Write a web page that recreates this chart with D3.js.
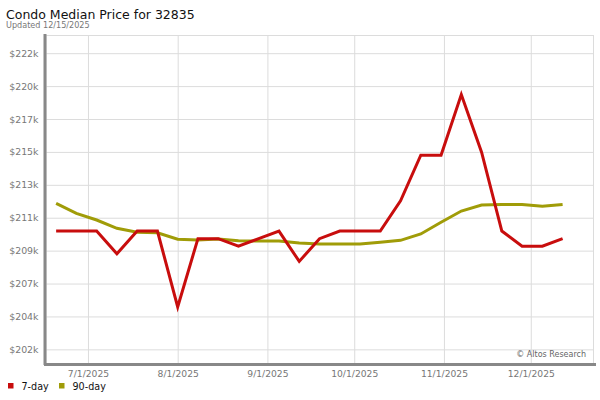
<!DOCTYPE html>
<html>
<head>
<meta charset="utf-8">
<script src="https://cdn.jsdelivr.net/npm/d3@7"></script>
<style>
  html, body { margin: 0; padding: 0; background: #fff; }
  svg { display: block; font-family: "DejaVu Sans", sans-serif; }
</style>
</head>
<body>
<svg id="chart" width="600" height="400"></svg>
<script>
// ---- data ----
const dates = [
  "2025-06-20","2025-06-27","2025-07-04","2025-07-11","2025-07-18","2025-07-25",
  "2025-08-01","2025-08-08","2025-08-15","2025-08-22","2025-08-29","2025-09-05",
  "2025-09-12","2025-09-19","2025-09-26","2025-10-03","2025-10-10","2025-10-17",
  "2025-10-24","2025-10-31","2025-11-07","2025-11-14","2025-11-21","2025-11-28",
  "2025-12-05","2025-12-12"
];
const sevenDay = [
  210000, 210000, 210000, 208500, 210000, 210000,
  205000, 209500, 209500, 209000, 209500, 210000,
  208000, 209500, 210000, 210000, 210000, 212000,
  215000, 215000, 219000, 215200, 210000, 209000,
  209000, 209500
];
const ninetyDay = [
  211830, 211170, 210730, 210180, 209920, 209890,
  209460, 209410, 209480, 209360, 209340, 209340,
  209210, 209150, 209150, 209150, 209260, 209390,
  209810, 210580, 211320, 211720, 211760, 211760,
  211630, 211760
];
const seriesNames = ["7-day", "90-day"];
const seriesColors = ["#c80d0d", "#a09c08"];
const yTickValues = [202200, 204370, 206540, 208710, 210880, 213050, 215220, 217390, 219560, 221730];
const yTickLabels = ["$202k","$204k","$207k","$209k","$211k","$213k","$215k","$217k","$220k","$222k"];
const xTickDates = ["2025-07-01","2025-08-01","2025-09-01","2025-10-01","2025-11-01","2025-12-01"];
const xTickLabels = ["7/1/2025","8/1/2025","9/1/2025","10/1/2025","11/1/2025","12/1/2025"];
const titleText = "Condo Median Price for 32835";
const updatedText = "Updated 12/15/2025";
const creditText = "\u00A9 Altos Research";

(function () {
// ---- layout ----
const svg = d3.select("#chart");
const pLeft = 46, pRight = 593, pTop = 35, pBottom = 363;
const parse = d3.timeParse("%Y-%m-%d");

const x = d3.scaleTime()
  .domain([new Date(2025, 5, 16, 12), new Date(2025, 11, 22, 12)])
  .range([pLeft, pRight]);
const y = d3.scaleLinear()
  .domain([201300, 222930])
  .range([pBottom, pTop]);

// Title
svg.append("text").attr("x", 6).attr("y", 18.5)
  .attr("font-size", 12.5).attr("fill", "#111").text(titleText);
svg.append("text").attr("x", 6).attr("y", 28)
  .attr("font-size", 8.1).attr("fill", "#777").text(updatedText);

// plot border (top/right)
svg.append("rect").attr("x", pLeft).attr("y", pTop + 0.5)
  .attr("width", pRight - pLeft + 0.5).attr("height", pBottom - pTop)
  .attr("fill", "none").attr("stroke", "#dcdcdc").attr("stroke-width", 1);

// Horizontal gridlines + y labels
const yAxis = d3.axisLeft(y)
  .tickValues(yTickValues)
  .tickFormat((d, i) => yTickLabels[i])
  .tickSize(-(pRight - pLeft))
  .tickPadding(8);
const gy = svg.append("g").attr("transform", `translate(${pLeft},0)`).call(yAxis);
gy.select(".domain").remove();
gy.selectAll(".tick line").attr("stroke", "#dcdcdc").attr("stroke-width", 1);
gy.selectAll(".tick text").attr("fill", "#777").attr("font-size", 9.4)
  .attr("font-family", "DejaVu Sans, sans-serif").attr("x", -7.5);

// Vertical gridlines + x labels
const xAxis = d3.axisBottom(x)
  .tickValues(xTickDates.map(parse))
  .tickFormat((d, i) => xTickLabels[i])
  .tickSize(-(pBottom - pTop))
  .tickPadding(8);
const gx = svg.append("g").attr("transform", `translate(0,${pBottom})`).call(xAxis);
gx.select(".domain").remove();
gx.selectAll(".tick line").attr("stroke", "#dcdcdc").attr("stroke-width", 1);
gx.selectAll(".tick text").attr("fill", "#777").attr("font-size", 9.2)
  .attr("font-family", "DejaVu Sans, sans-serif").attr("y", 7).attr("dy", "0.71em");

// Axis bars
svg.append("line").attr("x1", 45).attr("x2", 45).attr("y1", 34).attr("y2", 365)
  .attr("stroke", "#888").attr("stroke-width", 3);
svg.append("line").attr("x1", 44).attr("x2", 596).attr("y1", 364.5).attr("y2", 364.5)
  .attr("stroke", "#888").attr("stroke-width", 3);

// Credit
svg.append("text").attr("x", 586).attr("y", 357).attr("text-anchor", "end")
  .attr("font-size", 8).attr("fill", "#666").text(creditText);

// Lines
const seriesData = [sevenDay, ninetyDay];
const line = d3.line()
  .x((d, i) => x(parse(dates[i])))
  .y(d => y(d));
// draw 90-day first, then 7-day on top
[1, 0].forEach(s => {
  svg.append("path").datum(seriesData[s])
    .attr("d", line)
    .attr("fill", "none")
    .attr("stroke", seriesColors[s])
    .attr("stroke-width", 3)
    .attr("stroke-linejoin", "miter")
    .attr("stroke-linecap", "butt");
});

// Legend
const legendX = [8, 59];
seriesNames.forEach((name, i) => {
  svg.append("rect").attr("x", legendX[i]).attr("y", 383).attr("width", 5.5).attr("height", 5.5)
    .attr("fill", seriesColors[i]);
  svg.append("text").attr("x", legendX[i] + 13.5).attr("y", 389.5)
    .attr("font-size", 9.6).attr("fill", "#111").text(name);
});
})();
</script>
</body>
</html>
